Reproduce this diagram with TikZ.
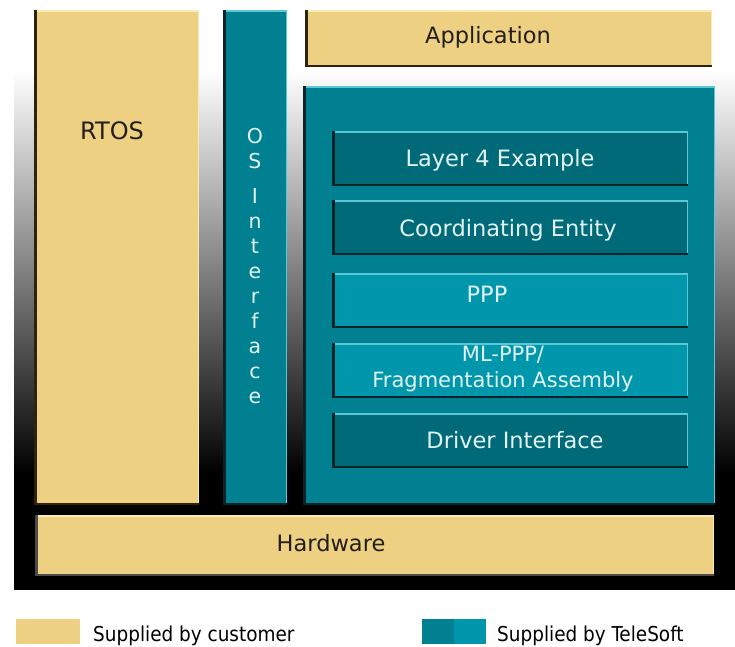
\documentclass[tikz,border=0pt]{standalone}
\usepackage{fontspec}
\setmainfont{DejaVu Sans}
\newfontfamily\legendfont{DejaVu Sans Condensed}
\definecolor{tanc}{RGB}{237,208,130}
\definecolor{tanlight}{RGB}{249,234,182}
\definecolor{tandark}{RGB}{45,34,12}
\definecolor{tealmid}{RGB}{0,128,145}
\definecolor{tealdark}{RGB}{0,106,120}
\definecolor{teallight}{RGB}{0,151,172}
\definecolor{tealhi}{RGB}{90,200,214}
\definecolor{tealsh}{RGB}{8,36,42}
\definecolor{lighttext}{RGB}{226,243,245}
\definecolor{darktext}{RGB}{35,30,25}
\tikzset{
  blk/.style={draw=none, inner sep=0pt, outer sep=0pt},
  tanbox/.style={blk, fill=tanc},
  tealbox/.style={blk, fill=tealmid},
  darkbox/.style={blk, fill=tealdark},
  litebox/.style={blk, fill=teallight},
  boxtext/.style={font=\fontsize{22.5}{26}\selectfont, inner sep=0pt},
  ltext/.style={boxtext, text=lighttext},
  dtext/.style={boxtext, text=darktext},
  legtext/.style={font=\legendfont\fontsize{20.5}{24}\selectfont, text=black, anchor=west, inner sep=0pt},
}
\newcommand\mkbox[6]{%
  \pgfmathsetmacro\mkbw{#4-#2}%
  \pgfmathsetmacro\mkbh{#5-#3}%
  \node[#6, minimum width=\mkbw pt, minimum height=\mkbh pt] (#1) at ({(#2+#4)/2},{(#3+#5)/2}) {};
}
\newcommand\bevel[3]{%
  \draw[line width=1.5pt, #2] ([yshift=-0.75pt]#1.north west) -- ([xshift=-0.75pt,yshift=-0.75pt]#1.north east) -- ([xshift=-0.75pt]#1.south east);
  \draw[line width=2.5pt, #3] ([xshift=1.25pt]#1.north west) -- ([xshift=1.25pt,yshift=1.25pt]#1.south west) -- ([yshift=1.25pt]#1.south east);
}
\begin{document}
\begin{tikzpicture}[x=1pt,y=-1pt]
\useasboundingbox (0,0) rectangle (735,646);
\fill[white] (0,0) rectangle (735,646);
% background gradient
\shade[top color=white, bottom color=black] (14,70) rectangle (735,475);
\fill[black] (14,474.5) rectangle (735,590);
% boxes
\mkbox{rtos}{34}{10}{199}{505}{tanbox}
\mkbox{osif}{223}{10}{287}{505}{tealbox}
\mkbox{app}{305}{10}{712}{67}{tanbox}
\mkbox{cont}{303}{86}{715}{505}{tealbox}
\mkbox{lfour}{332}{131}{688}{186}{darkbox}
\mkbox{coord}{332}{200}{688}{255}{darkbox}
\mkbox{ppp}{332}{273}{688}{328}{litebox}
\mkbox{mlppp}{332}{343}{688}{398}{litebox}
\mkbox{drv}{332}{413}{688}{468}{darkbox}
\mkbox{hw}{35}{515}{714}{576}{tanbox}
% bevels
\bevel{rtos}{tanlight}{tandark}
\bevel{osif}{tealhi}{tealsh}
\bevel{app}{tanlight}{tandark}
\bevel{cont}{tealhi}{tealsh}
\bevel{lfour}{tealhi}{tealsh}
\bevel{coord}{tealhi}{tealsh}
\bevel{ppp}{tealhi}{tealsh}
\bevel{mlppp}{tealhi}{tealsh}
\bevel{drv}{tealhi}{tealsh}
\bevel{hw}{tanlight}{black!70}
% texts
\node[dtext, font=\fontsize{24}{28}\selectfont] (rtost) at (112,131) {RTOS};
\node[ltext, align=center, font=\fontsize{20.5}{25}\selectfont] (osift) at (255,266.5) {O\\S\\[10pt]I\\n\\t\\e\\r\\f\\a\\c\\e};
\node[dtext] (appt) at (488,37) {Application};
\node[ltext] (lfourt) at (500,160) {Layer 4 Example};
\node[ltext] (coordt) at (508,230) {Coordinating Entity};
\node[ltext] (pppt) at (487,294) {PPP};
\node[ltext, align=center, font=\fontsize{21}{25.5}\selectfont] (mlpppt) at (503,369) {ML-PPP/\\Fragmentation Assembly};
\node[ltext] (drvt) at (515,440) {Driver Interface};
\node[dtext] (hwt) at (331,543) {Hardware};
% legend
\node[blk, fill=tanc, minimum width=64pt, minimum height=25pt] (legc) at (48,631.5) {};
\node[legtext] (legct) at (93,636) {Supplied by customer};
\node[blk, fill=tealmid, minimum width=32pt, minimum height=25pt] (legta) at (438,631.5) {};
\node[blk, fill=teallight, minimum width=32pt, minimum height=25pt] (legtb) at (470,631.5) {};
\node[legtext] (legtt) at (497,636) {Supplied by TeleSoft};
\end{tikzpicture}
\end{document}
